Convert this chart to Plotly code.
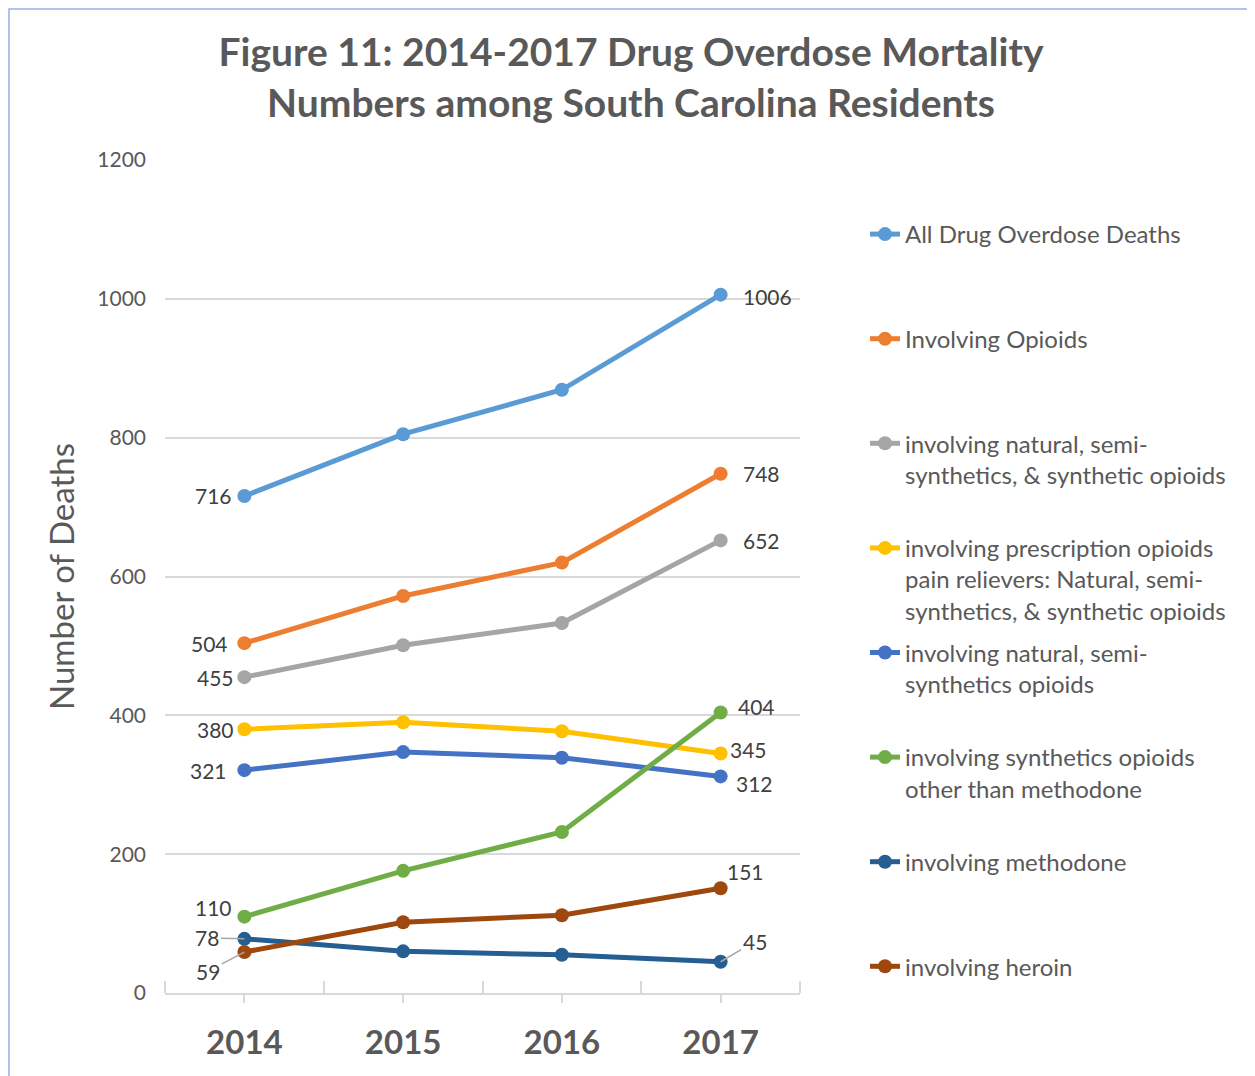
import plotly.graph_objects as go

# ---------------- data ----------------
years = [2014, 2015, 2016, 2017]
year_labels = ["2014", "2015", "2016", "2017"]

all_drug = [716, 805, 869, 1006]
opioids = [504, 572, 620, 748]
nat_semi_syn = [455, 501, 533, 652]
prescription = [380, 390, 377, 345]
nat_semi = [321, 347, 339, 312]
synthetic_other = [110, 176, 232, 404]
methadone = [78, 60, 55, 45]
heroin = [59, 102, 112, 151]

series_names = [
    "All Drug Overdose Deaths",
    "Involving Opioids",
    "involving natural, semi-<br>synthetics, & synthetic opioids",
    "involving prescription opioids<br>pain relievers: Natural, semi-<br>synthetics, & synthetic opioids",
    "involving natural, semi-<br>synthetics opioids",
    "involving synthetics opioids<br>other than methodone",
    "involving methodone",
    "involving heroin",
]
series_values = [all_drug, opioids, nat_semi_syn, prescription, nat_semi,
                 synthetic_other, methadone, heroin]

# ---------------- styles ----------------
colors = ["#5B9BD5", "#ED7D31", "#A5A5A5", "#FFC000", "#4472C4",
          "#70AD47", "#255E91", "#9E480E"]
FONT = "Lato"
TXT = "#595959"
LBL = "#404040"

# page offset of the figure (browser body margin)
OX, OY = 8, 8
W, H = 1255 - OX, 1076 - OY
L, T = 165 - OX, 160 - OY          # plot-area origin in figure px
PW, PH = 635, 833                  # plot-area size in px


def px_to_paper_x(fx):
    return (fx - L) / PW


def px_to_paper_y(fy):
    return (T + PH - fy) / PH


# data-label placement: (series idx, point idx, side, xshift, yshift, arrow(ax, ay) or None)
label_specs = [
    (0, 0, "left", -10, 0, None),
    (1, 0, "left", -14, 0, None),
    (2, 0, "left", -8, 0, None),
    (3, 0, "left", -8, 0, None),
    (4, 0, "left", -15, 0, None),
    (5, 0, "left", -10, 9, None),
    (6, 0, "left", None, None, (-37, -1)),
    (7, 0, "left", None, None, (-36, 19)),
    (0, 3, "right", 20, -2, None),
    (1, 3, "right", 20, 0, None),
    (2, 3, "right", 20, 0, None),
    (5, 3, "right", 15, 6, None),
    (3, 3, "right", 7, 4, None),
    (4, 3, "right", 13, -7, None),
    (7, 3, "right", 4, 17, None),
    (6, 3, "right", None, None, (34, -20)),
]

fig = go.Figure()
for i, (name, vals) in enumerate(zip(series_names, series_values)):
    n_lines = name.count("<br>") + 1
    padded = name + "<br>\u00a0" * (3 - n_lines)
    fig.add_trace(go.Scatter(
        x=years, y=vals, name=padded, mode="lines+markers",
        line=dict(color=colors[i], width=5),
        marker=dict(color=colors[i], size=14),
        legendgroup=f"g{i}",
    ))

annotations = []
for s, p, side, xs, ys, arrow in label_specs:
    v = series_values[s][p]
    if arrow is None:
        annotations.append(dict(
            x=years[p], y=v, xref="x", yref="y", text=str(v), showarrow=False,
            xanchor="right" if side == "left" else "left",
            xshift=xs, yshift=ys,
            font=dict(family=FONT, size=21, color=LBL)))
    else:
        annotations.append(dict(
            x=years[p], y=v, xref="x", yref="y", text=str(v), showarrow=True,
            ax=arrow[0], ay=arrow[1], arrowhead=0, arrowwidth=1.5,
            arrowcolor="#A6A6A6", standoff=0,
            font=dict(family=FONT, size=21, color=LBL)))

boundaries = [y - 0.5 for y in years] + [years[-1] + 0.5]

fig.update_layout(
    width=W, height=H,
    paper_bgcolor="white", plot_bgcolor="white",
    margin=dict(l=L, r=W - L - PW, t=T, b=H - T - PH),
    title=dict(
        text="<b>Figure 11: 2014-2017 Drug Overdose Mortality<br>Numbers among South Carolina Residents</b>",
        x=(631 - OX) / W, xref="container", xanchor="center",
        y=1 - (66 - OY) / H, yref="container", yanchor="middle",
        font=dict(family=FONT, size=39, color=TXT)),
    xaxis=dict(
        range=[years[0] - 0.5, years[-1] + 0.5],
        tickmode="array", tickvals=years, ticktext=[f"<b>{t}</b>" for t in year_labels],
        tickfont=dict(family=FONT, size=33, color=TXT),
        ticks="outside", ticklen=8, tickcolor="#D9D9D9", tickwidth=1.5,
        ticklabelstandoff=11,
        showline=True, linecolor="#D9D9D9", linewidth=2,
        showgrid=False, zeroline=False,
        minor=dict(tickmode="array", tickvals=boundaries, ticks="inside",
                   ticklen=12, tickcolor="#D9D9D9", tickwidth=1.5, showgrid=False),
    ),
    yaxis=dict(
        range=[0, 1200], dtick=200, tick0=0,
        tickfont=dict(family=FONT, size=21, color=TXT),
        ticklabelstandoff=18,
        showgrid=True, gridcolor="#D9D9D9", gridwidth=1.5,
        zeroline=False, showline=False,
        title=dict(text="Number of Deaths", standoff=12,
                   font=dict(family=FONT, size=33, color=TXT)),
    ),
    legend=dict(
        x=(865 - 165) / 635, xanchor="left",
        y=(993 - 212) / 833, yanchor="top",
        valign="top", traceorder="grouped", tracegroupgap=8,
        font=dict(family=FONT, size=24, color=TXT),
        bgcolor="rgba(0,0,0,0)", itemwidth=30, maxheight=H,
    ),
    annotations=annotations,
    shapes=[dict(type="rect", xref="paper", yref="paper",
                 x0=px_to_paper_x(1), x1=px_to_paper_x(1242),
                 y0=px_to_paper_y(H + 10), y1=px_to_paper_y(1),
                 line=dict(color="#8FB4E3", width=1.5), layer="above")],
    showlegend=True,
)

fig.write_html("out.html")
